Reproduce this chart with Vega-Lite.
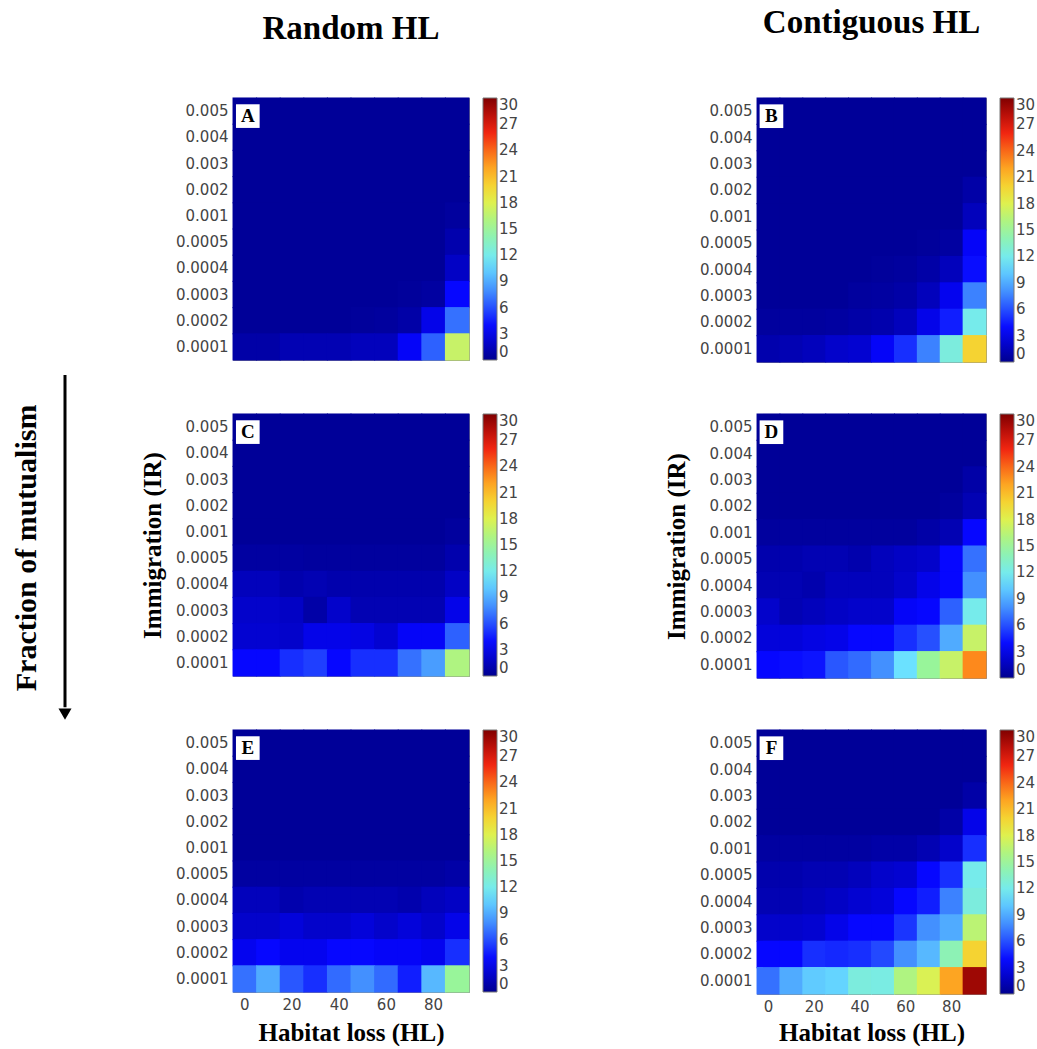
{
"$schema":"https://vega.github.io/schema/vega-lite/v6.json",
"padding":{"left":8,"top":6,"right":0,"bottom":0},
"background":"white",
"config":{
 "view":{"stroke":"#8c8c8c","strokeWidth":1,"fill":"#00008f"},
 "axis":{"labelFont":"DejaVu Sans","labelFontSize":15,"labelColor":"#444","ticks":false,"domain":false,"labelPadding":5,"titleFont":"Liberation Serif","titleFontWeight":"bold","titleFontSize":25,"titleColor":"#000"},
 "legend":{"orient":"right","offset":14,"gradientThickness":14,"labelFont":"DejaVu Sans","labelFontSize":15,"labelColor":"#444","labelBaseline":"middle","labelOffset":3,"gradientStrokeColor":"#777","gradientStrokeWidth":1,"labelOverlap":false},
 "title":{"font":"Liberation Serif","fontSize":33,"fontWeight":"bold","color":"#000"},
 "rect":{"width":{"band":1.04},"height":{"band":1.04}}
},
"datasets":{
"A":[
{"HL":0,"IR":"0.005","S":0.3},{"HL":10,"IR":"0.005","S":0.3},{"HL":20,"IR":"0.005","S":0.3},{"HL":30,"IR":"0.005","S":0.3},{"HL":40,"IR":"0.005","S":0.3},{"HL":50,"IR":"0.005","S":0.3},{"HL":60,"IR":"0.005","S":0.3},{"HL":70,"IR":"0.005","S":0.3},{"HL":80,"IR":"0.005","S":0.3},{"HL":90,"IR":"0.005","S":0.3},
{"HL":0,"IR":"0.004","S":0.3},{"HL":10,"IR":"0.004","S":0.3},{"HL":20,"IR":"0.004","S":0.3},{"HL":30,"IR":"0.004","S":0.3},{"HL":40,"IR":"0.004","S":0.3},{"HL":50,"IR":"0.004","S":0.3},{"HL":60,"IR":"0.004","S":0.3},{"HL":70,"IR":"0.004","S":0.3},{"HL":80,"IR":"0.004","S":0.3},{"HL":90,"IR":"0.004","S":0.3},
{"HL":0,"IR":"0.003","S":0.3},{"HL":10,"IR":"0.003","S":0.3},{"HL":20,"IR":"0.003","S":0.3},{"HL":30,"IR":"0.003","S":0.3},{"HL":40,"IR":"0.003","S":0.3},{"HL":50,"IR":"0.003","S":0.3},{"HL":60,"IR":"0.003","S":0.3},{"HL":70,"IR":"0.003","S":0.3},{"HL":80,"IR":"0.003","S":0.3},{"HL":90,"IR":"0.003","S":0.3},
{"HL":0,"IR":"0.002","S":0.3},{"HL":10,"IR":"0.002","S":0.3},{"HL":20,"IR":"0.002","S":0.3},{"HL":30,"IR":"0.002","S":0.3},{"HL":40,"IR":"0.002","S":0.3},{"HL":50,"IR":"0.002","S":0.3},{"HL":60,"IR":"0.002","S":0.3},{"HL":70,"IR":"0.002","S":0.3},{"HL":80,"IR":"0.002","S":0.3},{"HL":90,"IR":"0.002","S":0.3},
{"HL":0,"IR":"0.001","S":0.3},{"HL":10,"IR":"0.001","S":0.3},{"HL":20,"IR":"0.001","S":0.3},{"HL":30,"IR":"0.001","S":0.3},{"HL":40,"IR":"0.001","S":0.3},{"HL":50,"IR":"0.001","S":0.3},{"HL":60,"IR":"0.001","S":0.3},{"HL":70,"IR":"0.001","S":0.3},{"HL":80,"IR":"0.001","S":0.3},{"HL":90,"IR":"0.001","S":0.5},
{"HL":0,"IR":"0.0005","S":0.3},{"HL":10,"IR":"0.0005","S":0.3},{"HL":20,"IR":"0.0005","S":0.3},{"HL":30,"IR":"0.0005","S":0.3},{"HL":40,"IR":"0.0005","S":0.3},{"HL":50,"IR":"0.0005","S":0.3},{"HL":60,"IR":"0.0005","S":0.3},{"HL":70,"IR":"0.0005","S":0.3},{"HL":80,"IR":"0.0005","S":0.3},{"HL":90,"IR":"0.0005","S":1.0},
{"HL":0,"IR":"0.0004","S":0.3},{"HL":10,"IR":"0.0004","S":0.3},{"HL":20,"IR":"0.0004","S":0.3},{"HL":30,"IR":"0.0004","S":0.3},{"HL":40,"IR":"0.0004","S":0.3},{"HL":50,"IR":"0.0004","S":0.3},{"HL":60,"IR":"0.0004","S":0.3},{"HL":70,"IR":"0.0004","S":0.3},{"HL":80,"IR":"0.0004","S":0.3},{"HL":90,"IR":"0.0004","S":1.8},
{"HL":0,"IR":"0.0003","S":0.3},{"HL":10,"IR":"0.0003","S":0.3},{"HL":20,"IR":"0.0003","S":0.3},{"HL":30,"IR":"0.0003","S":0.3},{"HL":40,"IR":"0.0003","S":0.3},{"HL":50,"IR":"0.0003","S":0.3},{"HL":60,"IR":"0.0003","S":0.3},{"HL":70,"IR":"0.0003","S":0.4},{"HL":80,"IR":"0.0003","S":0.6},{"HL":90,"IR":"0.0003","S":3.8},
{"HL":0,"IR":"0.0002","S":0.3},{"HL":10,"IR":"0.0002","S":0.3},{"HL":20,"IR":"0.0002","S":0.3},{"HL":30,"IR":"0.0002","S":0.3},{"HL":40,"IR":"0.0002","S":0.3},{"HL":50,"IR":"0.0002","S":0.4},{"HL":60,"IR":"0.0002","S":0.5},{"HL":70,"IR":"0.0002","S":0.8},{"HL":80,"IR":"0.0002","S":3},{"HL":90,"IR":"0.0002","S":7},
{"HL":0,"IR":"0.0001","S":0.8},{"HL":10,"IR":"0.0001","S":0.8},{"HL":20,"IR":"0.0001","S":1.2},{"HL":30,"IR":"0.0001","S":1.2},{"HL":40,"IR":"0.0001","S":1.2},{"HL":50,"IR":"0.0001","S":1.5},{"HL":60,"IR":"0.0001","S":1.5},{"HL":70,"IR":"0.0001","S":3.5},{"HL":80,"IR":"0.0001","S":6.5},{"HL":90,"IR":"0.0001","S":17}
],
"B":[
{"HL":0,"IR":"0.005","S":0.3},{"HL":10,"IR":"0.005","S":0.3},{"HL":20,"IR":"0.005","S":0.3},{"HL":30,"IR":"0.005","S":0.3},{"HL":40,"IR":"0.005","S":0.3},{"HL":50,"IR":"0.005","S":0.3},{"HL":60,"IR":"0.005","S":0.3},{"HL":70,"IR":"0.005","S":0.3},{"HL":80,"IR":"0.005","S":0.3},{"HL":90,"IR":"0.005","S":0.3},
{"HL":0,"IR":"0.004","S":0.3},{"HL":10,"IR":"0.004","S":0.3},{"HL":20,"IR":"0.004","S":0.3},{"HL":30,"IR":"0.004","S":0.3},{"HL":40,"IR":"0.004","S":0.3},{"HL":50,"IR":"0.004","S":0.3},{"HL":60,"IR":"0.004","S":0.3},{"HL":70,"IR":"0.004","S":0.3},{"HL":80,"IR":"0.004","S":0.3},{"HL":90,"IR":"0.004","S":0.3},
{"HL":0,"IR":"0.003","S":0.3},{"HL":10,"IR":"0.003","S":0.3},{"HL":20,"IR":"0.003","S":0.3},{"HL":30,"IR":"0.003","S":0.3},{"HL":40,"IR":"0.003","S":0.3},{"HL":50,"IR":"0.003","S":0.3},{"HL":60,"IR":"0.003","S":0.3},{"HL":70,"IR":"0.003","S":0.3},{"HL":80,"IR":"0.003","S":0.3},{"HL":90,"IR":"0.003","S":0.3},
{"HL":0,"IR":"0.002","S":0.3},{"HL":10,"IR":"0.002","S":0.3},{"HL":20,"IR":"0.002","S":0.3},{"HL":30,"IR":"0.002","S":0.3},{"HL":40,"IR":"0.002","S":0.3},{"HL":50,"IR":"0.002","S":0.3},{"HL":60,"IR":"0.002","S":0.3},{"HL":70,"IR":"0.002","S":0.3},{"HL":80,"IR":"0.002","S":0.3},{"HL":90,"IR":"0.002","S":0.8},
{"HL":0,"IR":"0.001","S":0.3},{"HL":10,"IR":"0.001","S":0.3},{"HL":20,"IR":"0.001","S":0.3},{"HL":30,"IR":"0.001","S":0.3},{"HL":40,"IR":"0.001","S":0.3},{"HL":50,"IR":"0.001","S":0.3},{"HL":60,"IR":"0.001","S":0.3},{"HL":70,"IR":"0.001","S":0.3},{"HL":80,"IR":"0.001","S":0.3},{"HL":90,"IR":"0.001","S":1.5},
{"HL":0,"IR":"0.0005","S":0.3},{"HL":10,"IR":"0.0005","S":0.3},{"HL":20,"IR":"0.0005","S":0.3},{"HL":30,"IR":"0.0005","S":0.3},{"HL":40,"IR":"0.0005","S":0.3},{"HL":50,"IR":"0.0005","S":0.3},{"HL":60,"IR":"0.0005","S":0.3},{"HL":70,"IR":"0.0005","S":0.4},{"HL":80,"IR":"0.0005","S":0.6},{"HL":90,"IR":"0.0005","S":3.5},
{"HL":0,"IR":"0.0004","S":0.3},{"HL":10,"IR":"0.0004","S":0.3},{"HL":20,"IR":"0.0004","S":0.3},{"HL":30,"IR":"0.0004","S":0.3},{"HL":40,"IR":"0.0004","S":0.3},{"HL":50,"IR":"0.0004","S":0.4},{"HL":60,"IR":"0.0004","S":0.5},{"HL":70,"IR":"0.0004","S":0.8},{"HL":80,"IR":"0.0004","S":1.5},{"HL":90,"IR":"0.0004","S":4},
{"HL":0,"IR":"0.0003","S":0.3},{"HL":10,"IR":"0.0003","S":0.3},{"HL":20,"IR":"0.0003","S":0.3},{"HL":30,"IR":"0.0003","S":0.3},{"HL":40,"IR":"0.0003","S":0.5},{"HL":50,"IR":"0.0003","S":0.6},{"HL":60,"IR":"0.0003","S":0.8},{"HL":70,"IR":"0.0003","S":1.5},{"HL":80,"IR":"0.0003","S":3.2},{"HL":90,"IR":"0.0003","S":7.5},
{"HL":0,"IR":"0.0002","S":0.5},{"HL":10,"IR":"0.0002","S":0.5},{"HL":20,"IR":"0.0002","S":0.5},{"HL":30,"IR":"0.0002","S":0.6},{"HL":40,"IR":"0.0002","S":0.8},{"HL":50,"IR":"0.0002","S":1},{"HL":60,"IR":"0.0002","S":1.5},{"HL":70,"IR":"0.0002","S":3},{"HL":80,"IR":"0.0002","S":4.5},{"HL":90,"IR":"0.0002","S":12},
{"HL":0,"IR":"0.0001","S":1},{"HL":10,"IR":"0.0001","S":1.2},{"HL":20,"IR":"0.0001","S":1.5},{"HL":30,"IR":"0.0001","S":2},{"HL":40,"IR":"0.0001","S":2.2},{"HL":50,"IR":"0.0001","S":3.5},{"HL":60,"IR":"0.0001","S":5},{"HL":70,"IR":"0.0001","S":7.5},{"HL":80,"IR":"0.0001","S":12.5},{"HL":90,"IR":"0.0001","S":20}
],
"C":[
{"HL":0,"IR":"0.005","S":0.3},{"HL":10,"IR":"0.005","S":0.3},{"HL":20,"IR":"0.005","S":0.3},{"HL":30,"IR":"0.005","S":0.3},{"HL":40,"IR":"0.005","S":0.3},{"HL":50,"IR":"0.005","S":0.3},{"HL":60,"IR":"0.005","S":0.3},{"HL":70,"IR":"0.005","S":0.3},{"HL":80,"IR":"0.005","S":0.3},{"HL":90,"IR":"0.005","S":0.3},
{"HL":0,"IR":"0.004","S":0.3},{"HL":10,"IR":"0.004","S":0.3},{"HL":20,"IR":"0.004","S":0.3},{"HL":30,"IR":"0.004","S":0.3},{"HL":40,"IR":"0.004","S":0.3},{"HL":50,"IR":"0.004","S":0.3},{"HL":60,"IR":"0.004","S":0.3},{"HL":70,"IR":"0.004","S":0.3},{"HL":80,"IR":"0.004","S":0.3},{"HL":90,"IR":"0.004","S":0.3},
{"HL":0,"IR":"0.003","S":0.3},{"HL":10,"IR":"0.003","S":0.3},{"HL":20,"IR":"0.003","S":0.3},{"HL":30,"IR":"0.003","S":0.3},{"HL":40,"IR":"0.003","S":0.3},{"HL":50,"IR":"0.003","S":0.3},{"HL":60,"IR":"0.003","S":0.3},{"HL":70,"IR":"0.003","S":0.3},{"HL":80,"IR":"0.003","S":0.3},{"HL":90,"IR":"0.003","S":0.3},
{"HL":0,"IR":"0.002","S":0.3},{"HL":10,"IR":"0.002","S":0.3},{"HL":20,"IR":"0.002","S":0.3},{"HL":30,"IR":"0.002","S":0.3},{"HL":40,"IR":"0.002","S":0.3},{"HL":50,"IR":"0.002","S":0.3},{"HL":60,"IR":"0.002","S":0.3},{"HL":70,"IR":"0.002","S":0.3},{"HL":80,"IR":"0.002","S":0.3},{"HL":90,"IR":"0.002","S":0.3},
{"HL":0,"IR":"0.001","S":0.3},{"HL":10,"IR":"0.001","S":0.3},{"HL":20,"IR":"0.001","S":0.3},{"HL":30,"IR":"0.001","S":0.3},{"HL":40,"IR":"0.001","S":0.3},{"HL":50,"IR":"0.001","S":0.3},{"HL":60,"IR":"0.001","S":0.3},{"HL":70,"IR":"0.001","S":0.3},{"HL":80,"IR":"0.001","S":0.3},{"HL":90,"IR":"0.001","S":0.5},
{"HL":0,"IR":"0.0005","S":0.6},{"HL":10,"IR":"0.0005","S":0.6},{"HL":20,"IR":"0.0005","S":0.6},{"HL":30,"IR":"0.0005","S":0.5},{"HL":40,"IR":"0.0005","S":0.5},{"HL":50,"IR":"0.0005","S":0.5},{"HL":60,"IR":"0.0005","S":0.5},{"HL":70,"IR":"0.0005","S":0.5},{"HL":80,"IR":"0.0005","S":0.5},{"HL":90,"IR":"0.0005","S":1},
{"HL":0,"IR":"0.0004","S":1.5},{"HL":10,"IR":"0.0004","S":1.5},{"HL":20,"IR":"0.0004","S":1},{"HL":30,"IR":"0.0004","S":1.2},{"HL":40,"IR":"0.0004","S":1},{"HL":50,"IR":"0.0004","S":1},{"HL":60,"IR":"0.0004","S":1},{"HL":70,"IR":"0.0004","S":1},{"HL":80,"IR":"0.0004","S":1},{"HL":90,"IR":"0.0004","S":1.8},
{"HL":0,"IR":"0.0003","S":2},{"HL":10,"IR":"0.0003","S":2},{"HL":20,"IR":"0.0003","S":1.8},{"HL":30,"IR":"0.0003","S":0.8},{"HL":40,"IR":"0.0003","S":2},{"HL":50,"IR":"0.0003","S":1.2},{"HL":60,"IR":"0.0003","S":1.2},{"HL":70,"IR":"0.0003","S":1.2},{"HL":80,"IR":"0.0003","S":1.2},{"HL":90,"IR":"0.0003","S":3},
{"HL":0,"IR":"0.0002","S":2.2},{"HL":10,"IR":"0.0002","S":2.2},{"HL":20,"IR":"0.0002","S":2},{"HL":30,"IR":"0.0002","S":3},{"HL":40,"IR":"0.0002","S":3},{"HL":50,"IR":"0.0002","S":2.8},{"HL":60,"IR":"0.0002","S":2.2},{"HL":70,"IR":"0.0002","S":3.5},{"HL":80,"IR":"0.0002","S":3.5},{"HL":90,"IR":"0.0002","S":6.5},
{"HL":0,"IR":"0.0001","S":3.8},{"HL":10,"IR":"0.0001","S":3.8},{"HL":20,"IR":"0.0001","S":5},{"HL":30,"IR":"0.0001","S":5.5},{"HL":40,"IR":"0.0001","S":3.8},{"HL":50,"IR":"0.0001","S":5},{"HL":60,"IR":"0.0001","S":5},{"HL":70,"IR":"0.0001","S":7},{"HL":80,"IR":"0.0001","S":8.5},{"HL":90,"IR":"0.0001","S":16}
],
"D":[
{"HL":0,"IR":"0.005","S":0.3},{"HL":10,"IR":"0.005","S":0.3},{"HL":20,"IR":"0.005","S":0.3},{"HL":30,"IR":"0.005","S":0.3},{"HL":40,"IR":"0.005","S":0.3},{"HL":50,"IR":"0.005","S":0.3},{"HL":60,"IR":"0.005","S":0.3},{"HL":70,"IR":"0.005","S":0.3},{"HL":80,"IR":"0.005","S":0.3},{"HL":90,"IR":"0.005","S":0.3},
{"HL":0,"IR":"0.004","S":0.3},{"HL":10,"IR":"0.004","S":0.3},{"HL":20,"IR":"0.004","S":0.3},{"HL":30,"IR":"0.004","S":0.3},{"HL":40,"IR":"0.004","S":0.3},{"HL":50,"IR":"0.004","S":0.3},{"HL":60,"IR":"0.004","S":0.3},{"HL":70,"IR":"0.004","S":0.3},{"HL":80,"IR":"0.004","S":0.3},{"HL":90,"IR":"0.004","S":0.3},
{"HL":0,"IR":"0.003","S":0.3},{"HL":10,"IR":"0.003","S":0.3},{"HL":20,"IR":"0.003","S":0.3},{"HL":30,"IR":"0.003","S":0.3},{"HL":40,"IR":"0.003","S":0.3},{"HL":50,"IR":"0.003","S":0.3},{"HL":60,"IR":"0.003","S":0.3},{"HL":70,"IR":"0.003","S":0.3},{"HL":80,"IR":"0.003","S":0.3},{"HL":90,"IR":"0.003","S":0.8},
{"HL":0,"IR":"0.002","S":0.3},{"HL":10,"IR":"0.002","S":0.3},{"HL":20,"IR":"0.002","S":0.3},{"HL":30,"IR":"0.002","S":0.3},{"HL":40,"IR":"0.002","S":0.3},{"HL":50,"IR":"0.002","S":0.3},{"HL":60,"IR":"0.002","S":0.3},{"HL":70,"IR":"0.002","S":0.3},{"HL":80,"IR":"0.002","S":0.5},{"HL":90,"IR":"0.002","S":1.2},
{"HL":0,"IR":"0.001","S":0.5},{"HL":10,"IR":"0.001","S":0.5},{"HL":20,"IR":"0.001","S":0.5},{"HL":30,"IR":"0.001","S":0.5},{"HL":40,"IR":"0.001","S":0.5},{"HL":50,"IR":"0.001","S":0.5},{"HL":60,"IR":"0.001","S":0.5},{"HL":70,"IR":"0.001","S":0.8},{"HL":80,"IR":"0.001","S":1.2},{"HL":90,"IR":"0.001","S":3.8},
{"HL":0,"IR":"0.0005","S":1},{"HL":10,"IR":"0.0005","S":1},{"HL":20,"IR":"0.0005","S":1.2},{"HL":30,"IR":"0.0005","S":1.2},{"HL":40,"IR":"0.0005","S":1},{"HL":50,"IR":"0.0005","S":1.5},{"HL":60,"IR":"0.0005","S":1.8},{"HL":70,"IR":"0.0005","S":2},{"HL":80,"IR":"0.0005","S":3.8},{"HL":90,"IR":"0.0005","S":7},
{"HL":0,"IR":"0.0004","S":1.2},{"HL":10,"IR":"0.0004","S":1.2},{"HL":20,"IR":"0.0004","S":1},{"HL":30,"IR":"0.0004","S":1.5},{"HL":40,"IR":"0.0004","S":1.5},{"HL":50,"IR":"0.0004","S":1.5},{"HL":60,"IR":"0.0004","S":2},{"HL":70,"IR":"0.0004","S":3},{"HL":80,"IR":"0.0004","S":3.8},{"HL":90,"IR":"0.0004","S":8},
{"HL":0,"IR":"0.0003","S":2},{"HL":10,"IR":"0.0003","S":1.2},{"HL":20,"IR":"0.0003","S":1.5},{"HL":30,"IR":"0.0003","S":1.8},{"HL":40,"IR":"0.0003","S":2},{"HL":50,"IR":"0.0003","S":2},{"HL":60,"IR":"0.0003","S":3.5},{"HL":70,"IR":"0.0003","S":3.8},{"HL":80,"IR":"0.0003","S":6.5},{"HL":90,"IR":"0.0003","S":12},
{"HL":0,"IR":"0.0002","S":2.5},{"HL":10,"IR":"0.0002","S":2.5},{"HL":20,"IR":"0.0002","S":2.8},{"HL":30,"IR":"0.0002","S":3},{"HL":40,"IR":"0.0002","S":3.8},{"HL":50,"IR":"0.0002","S":3.8},{"HL":60,"IR":"0.0002","S":5},{"HL":70,"IR":"0.0002","S":6},{"HL":80,"IR":"0.0002","S":9},{"HL":90,"IR":"0.0002","S":17},
{"HL":0,"IR":"0.0001","S":3.8},{"HL":10,"IR":"0.0001","S":4},{"HL":20,"IR":"0.0001","S":4.2},{"HL":30,"IR":"0.0001","S":6.2},{"HL":40,"IR":"0.0001","S":6.8},{"HL":50,"IR":"0.0001","S":8},{"HL":60,"IR":"0.0001","S":11},{"HL":70,"IR":"0.0001","S":15},{"HL":80,"IR":"0.0001","S":17},{"HL":90,"IR":"0.0001","S":23}
],
"E":[
{"HL":0,"IR":"0.005","S":0.3},{"HL":10,"IR":"0.005","S":0.3},{"HL":20,"IR":"0.005","S":0.3},{"HL":30,"IR":"0.005","S":0.3},{"HL":40,"IR":"0.005","S":0.3},{"HL":50,"IR":"0.005","S":0.3},{"HL":60,"IR":"0.005","S":0.3},{"HL":70,"IR":"0.005","S":0.3},{"HL":80,"IR":"0.005","S":0.3},{"HL":90,"IR":"0.005","S":0.3},
{"HL":0,"IR":"0.004","S":0.3},{"HL":10,"IR":"0.004","S":0.3},{"HL":20,"IR":"0.004","S":0.3},{"HL":30,"IR":"0.004","S":0.3},{"HL":40,"IR":"0.004","S":0.3},{"HL":50,"IR":"0.004","S":0.3},{"HL":60,"IR":"0.004","S":0.3},{"HL":70,"IR":"0.004","S":0.3},{"HL":80,"IR":"0.004","S":0.3},{"HL":90,"IR":"0.004","S":0.3},
{"HL":0,"IR":"0.003","S":0.3},{"HL":10,"IR":"0.003","S":0.3},{"HL":20,"IR":"0.003","S":0.3},{"HL":30,"IR":"0.003","S":0.3},{"HL":40,"IR":"0.003","S":0.3},{"HL":50,"IR":"0.003","S":0.3},{"HL":60,"IR":"0.003","S":0.3},{"HL":70,"IR":"0.003","S":0.3},{"HL":80,"IR":"0.003","S":0.3},{"HL":90,"IR":"0.003","S":0.3},
{"HL":0,"IR":"0.002","S":0.3},{"HL":10,"IR":"0.002","S":0.3},{"HL":20,"IR":"0.002","S":0.3},{"HL":30,"IR":"0.002","S":0.3},{"HL":40,"IR":"0.002","S":0.3},{"HL":50,"IR":"0.002","S":0.3},{"HL":60,"IR":"0.002","S":0.3},{"HL":70,"IR":"0.002","S":0.3},{"HL":80,"IR":"0.002","S":0.3},{"HL":90,"IR":"0.002","S":0.3},
{"HL":0,"IR":"0.001","S":0.3},{"HL":10,"IR":"0.001","S":0.3},{"HL":20,"IR":"0.001","S":0.3},{"HL":30,"IR":"0.001","S":0.3},{"HL":40,"IR":"0.001","S":0.3},{"HL":50,"IR":"0.001","S":0.3},{"HL":60,"IR":"0.001","S":0.3},{"HL":70,"IR":"0.001","S":0.3},{"HL":80,"IR":"0.001","S":0.3},{"HL":90,"IR":"0.001","S":0.3},
{"HL":0,"IR":"0.0005","S":0.6},{"HL":10,"IR":"0.0005","S":0.6},{"HL":20,"IR":"0.0005","S":0.6},{"HL":30,"IR":"0.0005","S":0.6},{"HL":40,"IR":"0.0005","S":0.6},{"HL":50,"IR":"0.0005","S":0.6},{"HL":60,"IR":"0.0005","S":0.6},{"HL":70,"IR":"0.0005","S":0.6},{"HL":80,"IR":"0.0005","S":0.6},{"HL":90,"IR":"0.0005","S":0.8},
{"HL":0,"IR":"0.0004","S":1.5},{"HL":10,"IR":"0.0004","S":1.5},{"HL":20,"IR":"0.0004","S":1},{"HL":30,"IR":"0.0004","S":1.2},{"HL":40,"IR":"0.0004","S":1.2},{"HL":50,"IR":"0.0004","S":1.2},{"HL":60,"IR":"0.0004","S":1.2},{"HL":70,"IR":"0.0004","S":1},{"HL":80,"IR":"0.0004","S":1.5},{"HL":90,"IR":"0.0004","S":1.8},
{"HL":0,"IR":"0.0003","S":2},{"HL":10,"IR":"0.0003","S":2},{"HL":20,"IR":"0.0003","S":2.5},{"HL":30,"IR":"0.0003","S":2},{"HL":40,"IR":"0.0003","S":2},{"HL":50,"IR":"0.0003","S":2.5},{"HL":60,"IR":"0.0003","S":2},{"HL":70,"IR":"0.0003","S":2.5},{"HL":80,"IR":"0.0003","S":2},{"HL":90,"IR":"0.0003","S":3},
{"HL":0,"IR":"0.0002","S":3.2},{"HL":10,"IR":"0.0002","S":3.8},{"HL":20,"IR":"0.0002","S":3.2},{"HL":30,"IR":"0.0002","S":3.2},{"HL":40,"IR":"0.0002","S":3.8},{"HL":50,"IR":"0.0002","S":3.8},{"HL":60,"IR":"0.0002","S":3.5},{"HL":70,"IR":"0.0002","S":3.5},{"HL":80,"IR":"0.0002","S":3.2},{"HL":90,"IR":"0.0002","S":5},
{"HL":0,"IR":"0.0001","S":7},{"HL":10,"IR":"0.0001","S":9},{"HL":20,"IR":"0.0001","S":6.2},{"HL":30,"IR":"0.0001","S":5},{"HL":40,"IR":"0.0001","S":6.8},{"HL":50,"IR":"0.0001","S":8},{"HL":60,"IR":"0.0001","S":6.8},{"HL":70,"IR":"0.0001","S":4.5},{"HL":80,"IR":"0.0001","S":9.5},{"HL":90,"IR":"0.0001","S":15}
],
"F":[
{"HL":0,"IR":"0.005","S":0.3},{"HL":10,"IR":"0.005","S":0.3},{"HL":20,"IR":"0.005","S":0.3},{"HL":30,"IR":"0.005","S":0.3},{"HL":40,"IR":"0.005","S":0.3},{"HL":50,"IR":"0.005","S":0.3},{"HL":60,"IR":"0.005","S":0.3},{"HL":70,"IR":"0.005","S":0.3},{"HL":80,"IR":"0.005","S":0.3},{"HL":90,"IR":"0.005","S":0.3},
{"HL":0,"IR":"0.004","S":0.3},{"HL":10,"IR":"0.004","S":0.3},{"HL":20,"IR":"0.004","S":0.3},{"HL":30,"IR":"0.004","S":0.3},{"HL":40,"IR":"0.004","S":0.3},{"HL":50,"IR":"0.004","S":0.3},{"HL":60,"IR":"0.004","S":0.3},{"HL":70,"IR":"0.004","S":0.3},{"HL":80,"IR":"0.004","S":0.3},{"HL":90,"IR":"0.004","S":0.3},
{"HL":0,"IR":"0.003","S":0.3},{"HL":10,"IR":"0.003","S":0.3},{"HL":20,"IR":"0.003","S":0.3},{"HL":30,"IR":"0.003","S":0.3},{"HL":40,"IR":"0.003","S":0.3},{"HL":50,"IR":"0.003","S":0.3},{"HL":60,"IR":"0.003","S":0.3},{"HL":70,"IR":"0.003","S":0.3},{"HL":80,"IR":"0.003","S":0.3},{"HL":90,"IR":"0.003","S":0.8},
{"HL":0,"IR":"0.002","S":0.3},{"HL":10,"IR":"0.002","S":0.3},{"HL":20,"IR":"0.002","S":0.3},{"HL":30,"IR":"0.002","S":0.3},{"HL":40,"IR":"0.002","S":0.3},{"HL":50,"IR":"0.002","S":0.3},{"HL":60,"IR":"0.002","S":0.3},{"HL":70,"IR":"0.002","S":0.3},{"HL":80,"IR":"0.002","S":0.8},{"HL":90,"IR":"0.002","S":3},
{"HL":0,"IR":"0.001","S":0.6},{"HL":10,"IR":"0.001","S":0.6},{"HL":20,"IR":"0.001","S":0.6},{"HL":30,"IR":"0.001","S":0.6},{"HL":40,"IR":"0.001","S":0.6},{"HL":50,"IR":"0.001","S":0.8},{"HL":60,"IR":"0.001","S":0.8},{"HL":70,"IR":"0.001","S":1.2},{"HL":80,"IR":"0.001","S":2},{"HL":90,"IR":"0.001","S":5},
{"HL":0,"IR":"0.0005","S":1},{"HL":10,"IR":"0.0005","S":1},{"HL":20,"IR":"0.0005","S":1.2},{"HL":30,"IR":"0.0005","S":1.2},{"HL":40,"IR":"0.0005","S":1.5},{"HL":50,"IR":"0.0005","S":2},{"HL":60,"IR":"0.0005","S":2.2},{"HL":70,"IR":"0.0005","S":3.8},{"HL":80,"IR":"0.0005","S":5},{"HL":90,"IR":"0.0005","S":12},
{"HL":0,"IR":"0.0004","S":1.2},{"HL":10,"IR":"0.0004","S":1.2},{"HL":20,"IR":"0.0004","S":1.5},{"HL":30,"IR":"0.0004","S":1.8},{"HL":40,"IR":"0.0004","S":2.2},{"HL":50,"IR":"0.0004","S":2.5},{"HL":60,"IR":"0.0004","S":3.8},{"HL":70,"IR":"0.0004","S":4.5},{"HL":80,"IR":"0.0004","S":7.5},{"HL":90,"IR":"0.0004","S":12.5},
{"HL":0,"IR":"0.0003","S":2},{"HL":10,"IR":"0.0003","S":2},{"HL":20,"IR":"0.0003","S":2.2},{"HL":30,"IR":"0.0003","S":3},{"HL":40,"IR":"0.0003","S":3.8},{"HL":50,"IR":"0.0003","S":3.8},{"HL":60,"IR":"0.0003","S":5.2},{"HL":70,"IR":"0.0003","S":8},{"HL":80,"IR":"0.0003","S":9},{"HL":90,"IR":"0.0003","S":16.5},
{"HL":0,"IR":"0.0002","S":3.8},{"HL":10,"IR":"0.0002","S":3.8},{"HL":20,"IR":"0.0002","S":5},{"HL":30,"IR":"0.0002","S":4.8},{"HL":40,"IR":"0.0002","S":5},{"HL":50,"IR":"0.0002","S":5.8},{"HL":60,"IR":"0.0002","S":8},{"HL":70,"IR":"0.0002","S":9.5},{"HL":80,"IR":"0.0002","S":14},{"HL":90,"IR":"0.0002","S":20},
{"HL":0,"IR":"0.0001","S":7},{"HL":10,"IR":"0.0001","S":9},{"HL":20,"IR":"0.0001","S":10.2},{"HL":30,"IR":"0.0001","S":10.5},{"HL":40,"IR":"0.0001","S":12.5},{"HL":50,"IR":"0.0001","S":12.3},{"HL":60,"IR":"0.0001","S":16},{"HL":70,"IR":"0.0001","S":17.8},{"HL":80,"IR":"0.0001","S":22},{"HL":90,"IR":"0.0001","S":29}
]
},
"hconcat":[
 {"hconcat":[
  {"width":76,"height":623,"view":{"stroke":null,"fill":null},
   "encoding":{"x":{"field":"part","type":"nominal","scale":{"type":"point","domain":["text","arrow"],"padding":0.5},"axis":null}},
   "layer":[
    {"data":{"values":[{"part":"text","label":"Fraction of mutualism"}]},
     "mark":{"type":"text","angle":270,"font":"Liberation Serif","fontSize":30,"fontWeight":"bold","align":"center","baseline":"middle","color":"#000"},
     "encoding":{"y":{"datum":0.5,"type":"quantitative","scale":{"domain":[-0.755,1],"reverse":true},"axis":null},"text":{"field":"label"}}},
    {"data":{"values":[{"part":"arrow"}]},
     "mark":{"type":"rule","strokeWidth":3,"color":"#000"},
     "encoding":{"y":{"datum":0,"type":"quantitative"},"y2":{"datum":0.96}}},
    {"data":{"values":[{"part":"arrow"}]},
     "mark":{"type":"point","shape":"triangle-down","filled":true,"color":"#000","opacity":1,"size":170},
     "encoding":{"y":{"datum":0.98,"type":"quantitative"}}}
   ]},
  {"vconcat":[
   {"width":236,"height":262,
    "title":{"text":"Random HL","offset":25,"baseline":"alphabetic","frame":"group","anchor":"middle"},
    "encoding":{"x":{"field":"HL","type":"ordinal","scale":{"paddingInner":0,"paddingOuter":0},"axis":null},
     "y":{"field":"IR","type":"ordinal","sort":["0.005","0.004","0.003","0.002","0.001","0.0005","0.0004","0.0003","0.0002","0.0001"],"scale":{"paddingInner":0,"paddingOuter":0},"axis":{"title":null}}},
    "layer":[
     {"data":{"name":"A"},"mark":{"type":"rect"},
      "encoding":{"color":{"field":"S","type":"quantitative","scale":{"domain":[0,3.75,7.5,11.25,15,18.75,22.5,26.25,30],"range":["#00008f","#0505ff","#3c82ff","#6ee8ff","#98f59a","#f0f03c","#ff9a1e","#f01e10","#800000"],"interpolate":"rgb","clamp":true},"legend":{"type":"gradient","title":null,"values":[0,3,6,9,12,15,18,21,24,27,30],"gradientLength":262}}}},
     {"data":{"values":[{"HL":0,"IR":"0.005","label":"A"}]},"mark":{"type":"point","shape":"square","filled":true,"color":"#fff","opacity":1,"size":560,"xOffset":3,"yOffset":5}},
     {"data":{"values":[{"HL":0,"IR":"0.005","label":"A"}]},"mark":{"type":"text","font":"Liberation Serif","fontWeight":"bold","fontSize":19,"baseline":"middle","align":"center","color":"#000","xOffset":3,"yOffset":5},"encoding":{"text":{"field":"label"}}}
    ]},
   {"width":236,"height":262,
    "encoding":{"x":{"field":"HL","type":"ordinal","scale":{"paddingInner":0,"paddingOuter":0},"axis":null},
     "y":{"field":"IR","type":"ordinal","sort":["0.005","0.004","0.003","0.002","0.001","0.0005","0.0004","0.0003","0.0002","0.0001"],"scale":{"paddingInner":0,"paddingOuter":0},"axis":{"title":"Immigration (IR)","titlePadding":10}}},
    "layer":[
     {"data":{"name":"C"},"mark":{"type":"rect"},
      "encoding":{"color":{"field":"S","type":"quantitative","scale":{"domain":[0,3.75,7.5,11.25,15,18.75,22.5,26.25,30],"range":["#00008f","#0505ff","#3c82ff","#6ee8ff","#98f59a","#f0f03c","#ff9a1e","#f01e10","#800000"],"interpolate":"rgb","clamp":true},"legend":{"type":"gradient","title":null,"values":[0,3,6,9,12,15,18,21,24,27,30],"gradientLength":262}}}},
     {"data":{"values":[{"HL":0,"IR":"0.005","label":"C"}]},"mark":{"type":"point","shape":"square","filled":true,"color":"#fff","opacity":1,"size":560,"xOffset":3,"yOffset":5}},
     {"data":{"values":[{"HL":0,"IR":"0.005","label":"C"}]},"mark":{"type":"text","font":"Liberation Serif","fontWeight":"bold","fontSize":19,"baseline":"middle","align":"center","color":"#000","xOffset":3,"yOffset":5},"encoding":{"text":{"field":"label"}}}
    ]},
   {"width":236,"height":262,
    "encoding":{"x":{"field":"HL","type":"ordinal","scale":{"paddingInner":0,"paddingOuter":0},"axis":{"values":[0,20,40,60,80],"labelAngle":0,"title":"Habitat loss (HL)","titlePadding":8}},
     "y":{"field":"IR","type":"ordinal","sort":["0.005","0.004","0.003","0.002","0.001","0.0005","0.0004","0.0003","0.0002","0.0001"],"scale":{"paddingInner":0,"paddingOuter":0},"axis":{"title":null}}},
    "layer":[
     {"data":{"name":"E"},"mark":{"type":"rect"},
      "encoding":{"color":{"field":"S","type":"quantitative","scale":{"domain":[0,3.75,7.5,11.25,15,18.75,22.5,26.25,30],"range":["#00008f","#0505ff","#3c82ff","#6ee8ff","#98f59a","#f0f03c","#ff9a1e","#f01e10","#800000"],"interpolate":"rgb","clamp":true},"legend":{"type":"gradient","title":null,"values":[0,3,6,9,12,15,18,21,24,27,30],"gradientLength":262}}}},
     {"data":{"values":[{"HL":0,"IR":"0.005","label":"E"}]},"mark":{"type":"point","shape":"square","filled":true,"color":"#fff","opacity":1,"size":560,"xOffset":3,"yOffset":5}},
     {"data":{"values":[{"HL":0,"IR":"0.005","label":"E"}]},"mark":{"type":"text","font":"Liberation Serif","fontWeight":"bold","fontSize":19,"baseline":"middle","align":"center","color":"#000","xOffset":3,"yOffset":5},"encoding":{"text":{"field":"label"}}}
    ]}
  ],"spacing":50,"resolve":{"scale":{"color":"independent","x":"independent","y":"independent"},"legend":{"color":"independent"}}}
 ],"spacing":56,"resolve":{"scale":{"color":"independent","x":"independent","y":"independent"},"legend":{"color":"independent"}}},
 {"vconcat":[
   {"width":229,"height":264,
    "title":{"text":"Contiguous HL","offset":31,"baseline":"alphabetic","frame":"group","anchor":"middle"},
    "encoding":{"x":{"field":"HL","type":"ordinal","scale":{"paddingInner":0,"paddingOuter":0},"axis":null},
     "y":{"field":"IR","type":"ordinal","sort":["0.005","0.004","0.003","0.002","0.001","0.0005","0.0004","0.0003","0.0002","0.0001"],"scale":{"paddingInner":0,"paddingOuter":0},"axis":{"title":null}}},
    "layer":[
     {"data":{"name":"B"},"mark":{"type":"rect"},
      "encoding":{"color":{"field":"S","type":"quantitative","scale":{"domain":[0,3.75,7.5,11.25,15,18.75,22.5,26.25,30],"range":["#00008f","#0505ff","#3c82ff","#6ee8ff","#98f59a","#f0f03c","#ff9a1e","#f01e10","#800000"],"interpolate":"rgb","clamp":true},"legend":{"type":"gradient","title":null,"values":[0,3,6,9,12,15,18,21,24,27,30],"gradientLength":264}}}},
     {"data":{"values":[{"HL":0,"IR":"0.005","label":"B"}]},"mark":{"type":"point","shape":"square","filled":true,"color":"#fff","opacity":1,"size":560,"xOffset":3,"yOffset":5}},
     {"data":{"values":[{"HL":0,"IR":"0.005","label":"B"}]},"mark":{"type":"text","font":"Liberation Serif","fontWeight":"bold","fontSize":19,"baseline":"middle","align":"center","color":"#000","xOffset":3,"yOffset":5},"encoding":{"text":{"field":"label"}}}
    ]},
   {"width":229,"height":264,
    "encoding":{"x":{"field":"HL","type":"ordinal","scale":{"paddingInner":0,"paddingOuter":0},"axis":null},
     "y":{"field":"IR","type":"ordinal","sort":["0.005","0.004","0.003","0.002","0.001","0.0005","0.0004","0.0003","0.0002","0.0001"],"scale":{"paddingInner":0,"paddingOuter":0},"axis":{"title":"Immigration (IR)","titlePadding":10}}},
    "layer":[
     {"data":{"name":"D"},"mark":{"type":"rect"},
      "encoding":{"color":{"field":"S","type":"quantitative","scale":{"domain":[0,3.75,7.5,11.25,15,18.75,22.5,26.25,30],"range":["#00008f","#0505ff","#3c82ff","#6ee8ff","#98f59a","#f0f03c","#ff9a1e","#f01e10","#800000"],"interpolate":"rgb","clamp":true},"legend":{"type":"gradient","title":null,"values":[0,3,6,9,12,15,18,21,24,27,30],"gradientLength":264}}}},
     {"data":{"values":[{"HL":0,"IR":"0.005","label":"D"}]},"mark":{"type":"point","shape":"square","filled":true,"color":"#fff","opacity":1,"size":560,"xOffset":3,"yOffset":5}},
     {"data":{"values":[{"HL":0,"IR":"0.005","label":"D"}]},"mark":{"type":"text","font":"Liberation Serif","fontWeight":"bold","fontSize":19,"baseline":"middle","align":"center","color":"#000","xOffset":3,"yOffset":5},"encoding":{"text":{"field":"label"}}}
    ]},
   {"width":229,"height":264,
    "encoding":{"x":{"field":"HL","type":"ordinal","scale":{"paddingInner":0,"paddingOuter":0},"axis":{"values":[0,20,40,60,80],"labelAngle":0,"title":"Habitat loss (HL)","titlePadding":6}},
     "y":{"field":"IR","type":"ordinal","sort":["0.005","0.004","0.003","0.002","0.001","0.0005","0.0004","0.0003","0.0002","0.0001"],"scale":{"paddingInner":0,"paddingOuter":0},"axis":{"title":null}}},
    "layer":[
     {"data":{"name":"F"},"mark":{"type":"rect"},
      "encoding":{"color":{"field":"S","type":"quantitative","scale":{"domain":[0,3.75,7.5,11.25,15,18.75,22.5,26.25,30],"range":["#00008f","#0505ff","#3c82ff","#6ee8ff","#98f59a","#f0f03c","#ff9a1e","#f01e10","#800000"],"interpolate":"rgb","clamp":true},"legend":{"type":"gradient","title":null,"values":[0,3,6,9,12,15,18,21,24,27,30],"gradientLength":264}}}},
     {"data":{"values":[{"HL":0,"IR":"0.005","label":"F"}]},"mark":{"type":"point","shape":"square","filled":true,"color":"#fff","opacity":1,"size":560,"xOffset":3,"yOffset":5}},
     {"data":{"values":[{"HL":0,"IR":"0.005","label":"F"}]},"mark":{"type":"text","font":"Liberation Serif","fontWeight":"bold","fontSize":19,"baseline":"middle","align":"center","color":"#000","xOffset":3,"yOffset":5},"encoding":{"text":{"field":"label"}}}
    ]}
  ],"spacing":48,"resolve":{"scale":{"color":"independent","x":"independent","y":"independent"},"legend":{"color":"independent"}}}
],
"spacing":144,
"resolve":{"scale":{"color":"independent","x":"independent","y":"independent"},"legend":{"color":"independent"}}
}
